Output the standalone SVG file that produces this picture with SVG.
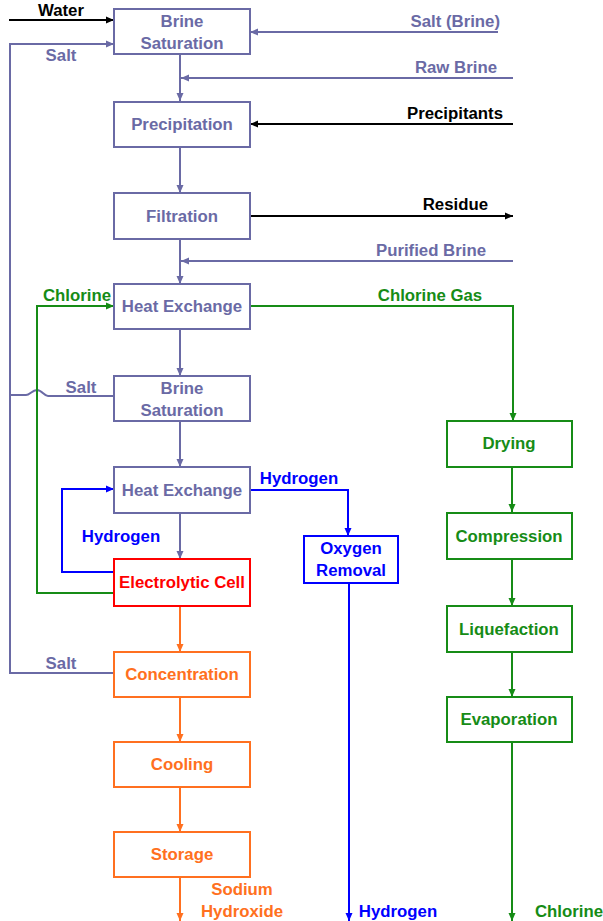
<svg xmlns="http://www.w3.org/2000/svg" width="603" height="921" viewBox="0 0 603 921">
<defs>
<style>
text{font-family:"Liberation Sans",Arial,sans-serif;font-weight:bold;font-size:16.8px}
.box{fill:#fff;stroke-width:2}
.ln{fill:none;stroke-width:2}
.s{stroke:#6A6AA5}.st{fill:#6A6AA5}
.k{stroke:#000}.kt{fill:#000}
.g{stroke:#168C16}.gt{fill:#168C16}
.o{stroke:#FF7020}.ot{fill:#FF7020}
.b{stroke:#0000FF}.bt{fill:#0000FF}
.r{stroke:#FF0000}.rt{fill:#FF0000}
.m{text-anchor:middle}.e{text-anchor:end}
</style>
<marker id="as" viewBox="0 0 8 8" refX="8" refY="4" markerWidth="8" markerHeight="8" markerUnits="userSpaceOnUse" orient="auto"><path d="M0,0.5 L8,4 L0,7.5 Z" fill="#6A6AA5"/></marker>
<marker id="ak" viewBox="0 0 8 8" refX="8" refY="4" markerWidth="8" markerHeight="8" markerUnits="userSpaceOnUse" orient="auto"><path d="M0,0.5 L8,4 L0,7.5 Z" fill="#000"/></marker>
<marker id="ag" viewBox="0 0 8 8" refX="8" refY="4" markerWidth="8" markerHeight="8" markerUnits="userSpaceOnUse" orient="auto"><path d="M0,0.5 L8,4 L0,7.5 Z" fill="#168C16"/></marker>
<marker id="ao" viewBox="0 0 8 8" refX="8" refY="4" markerWidth="8" markerHeight="8" markerUnits="userSpaceOnUse" orient="auto"><path d="M0,0.5 L8,4 L0,7.5 Z" fill="#FF7020"/></marker>
<marker id="ab" viewBox="0 0 8 8" refX="8" refY="4" markerWidth="8" markerHeight="8" markerUnits="userSpaceOnUse" orient="auto"><path d="M0,0.5 L8,4 L0,7.5 Z" fill="#0000FF"/></marker>
</defs>
<rect width="603" height="921" fill="#fff"/>
<g id="connectors">
<path class="ln s" d="M180,55 V101" marker-end="url(#as)"/>
<path class="ln s" d="M180,148 V193" marker-end="url(#as)"/>
<path class="ln s" d="M180,240 V284" marker-end="url(#as)"/>
<path class="ln s" d="M180,330 V376" marker-end="url(#as)"/>
<path class="ln s" d="M180,422 V467" marker-end="url(#as)"/>
<path class="ln s" d="M180,513 V559" marker-end="url(#as)"/>
<path class="ln k" d="M9,20 H114" marker-end="url(#ak)"/>
<path class="ln s" d="M498,32 H250" marker-end="url(#as)"/>
<path class="ln s" d="M513,78 H181" marker-end="url(#as)"/>
<path class="ln k" d="M513,124 H250" marker-end="url(#ak)"/>
<path class="ln k" d="M250,216 H513" marker-end="url(#ak)"/>
<path class="ln s" d="M513,261 H181" marker-end="url(#as)"/>
<path class="ln s" d="M114,673 H10 V44 H114" marker-end="url(#as)"/>
<path class="ln s" d="M114,396 H48 C44,396 42,390 37,390 C32,390 30,395 26,395 H10"/>
<path class="ln g" d="M114,593 H37 V306 H114" marker-end="url(#ag)"/>
<path class="ln g" d="M250,306 H513 V421" marker-end="url(#ag)"/>
<path class="ln g" d="M512,467 V512" marker-end="url(#ag)"/>
<path class="ln g" d="M512,559 V606" marker-end="url(#ag)"/>
<path class="ln g" d="M512,652 V697" marker-end="url(#ag)"/>
<path class="ln g" d="M512,742 V921" marker-end="url(#ag)"/>
<path class="ln b" d="M114,572 H62 V489 H114" marker-end="url(#ab)"/>
<path class="ln b" d="M250,490 H348 V536" marker-end="url(#ab)"/>
<path class="ln b" d="M349,583 V921" marker-end="url(#ab)"/>
<path class="ln o" d="M180,606 V652" marker-end="url(#ao)"/>
<path class="ln o" d="M180,697 V742" marker-end="url(#ao)"/>
<path class="ln o" d="M180,787 V832" marker-end="url(#ao)"/>
<path class="ln o" d="M180,877 V921" marker-end="url(#ao)"/>
</g>
<g id="labels">
<text class="kt m" x="61" y="16">Water</text>
<text class="st m" x="61" y="61">Salt</text>
<text class="st e" x="500" y="27">Salt (Brine)</text>
<text class="st e" x="497" y="73">Raw Brine</text>
<text class="kt e" x="503" y="119">Precipitants</text>
<text class="kt e" x="488" y="210">Residue</text>
<text class="st e" x="486" y="256">Purified Brine</text>
<text class="gt m" x="430" y="301">Chlorine Gas</text>
<text class="gt m" x="77" y="301">Chlorine</text>
<text class="st m" x="81" y="393">Salt</text>
<text class="bt m" x="121" y="542">Hydrogen</text>
<text class="st m" x="61" y="669">Salt</text>
<text class="bt m" x="299" y="484">Hydrogen</text>
<text class="ot m" x="242" y="895">Sodium</text>
<text class="ot m" x="242" y="917">Hydroxide</text>
<text class="bt m" x="398" y="917">Hydrogen</text>
<text class="gt m" x="569" y="917">Chlorine</text>
</g>
<g id="brine-saturation-1"><rect class="box s" x="114" y="9" width="136" height="45"/><text class="st m" x="182" y="27">Brine</text><text class="st m" x="182" y="49">Saturation</text></g>
<g id="precipitation"><rect class="box s" x="114" y="102" width="136" height="45"/><text class="st m" x="182" y="130">Precipitation</text></g>
<g id="filtration"><rect class="box s" x="114" y="193" width="136" height="46"/><text class="st m" x="182" y="222">Filtration</text></g>
<g id="heat-exchange-1"><rect class="box s" x="114" y="284" width="136" height="45"/><text class="st m" x="182" y="312">Heat Exchange</text></g>
<g id="brine-saturation-2"><rect class="box s" x="114" y="376" width="136" height="45"/><text class="st m" x="182" y="394">Brine</text><text class="st m" x="182" y="416">Saturation</text></g>
<g id="heat-exchange-2"><rect class="box s" x="114" y="467" width="136" height="46"/><text class="st m" x="182" y="496">Heat Exchange</text></g>
<g id="electrolytic-cell"><rect class="box r" x="114" y="559" width="136" height="47"/><text class="rt m" x="182" y="588">Electrolytic Cell</text></g>
<g id="concentration"><rect class="box o" x="114" y="652" width="136" height="45"/><text class="ot m" x="182" y="680">Concentration</text></g>
<g id="cooling"><rect class="box o" x="114" y="742" width="136" height="45"/><text class="ot m" x="182" y="770">Cooling</text></g>
<g id="storage"><rect class="box o" x="114" y="832" width="136" height="45"/><text class="ot m" x="182" y="860">Storage</text></g>
<g id="oxygen-removal"><rect class="box b" x="304" y="536" width="94" height="47"/><text class="bt m" x="351" y="554">Oxygen</text><text class="bt m" x="351" y="576">Removal</text></g>
<g id="drying"><rect class="box g" x="447" y="421" width="125" height="46"/><text class="gt m" x="509" y="449">Drying</text></g>
<g id="compression"><rect class="box g" x="447" y="513" width="125" height="46"/><text class="gt m" x="509" y="542">Compression</text></g>
<g id="liquefaction"><rect class="box g" x="447" y="606" width="125" height="46"/><text class="gt m" x="509" y="635">Liquefaction</text></g>
<g id="evaporation"><rect class="box g" x="447" y="697" width="125" height="45"/><text class="gt m" x="509" y="725">Evaporation</text></g>
</svg>
